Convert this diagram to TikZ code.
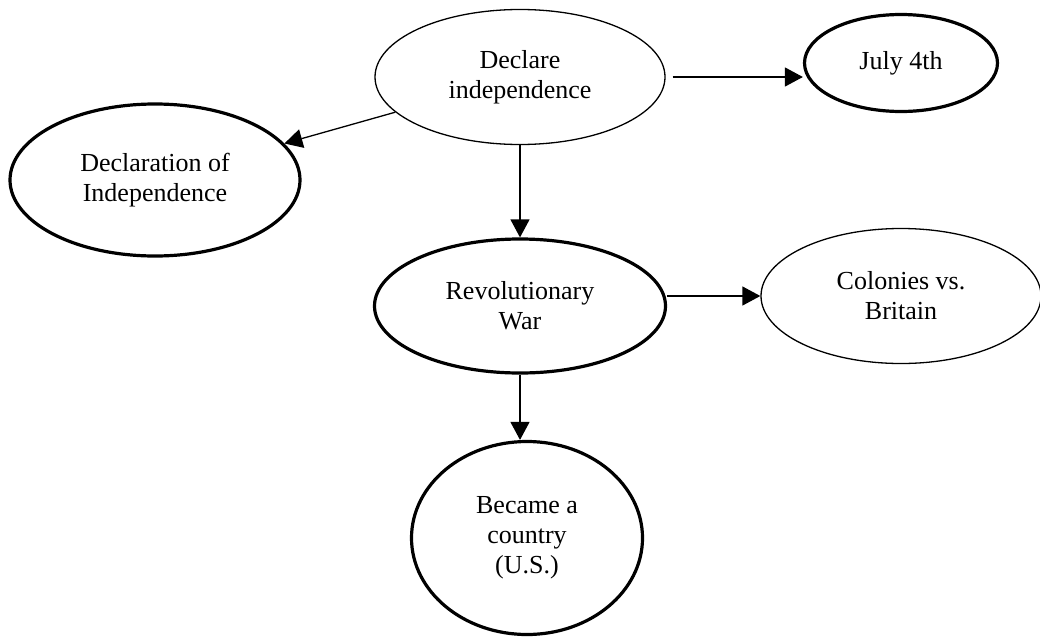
\documentclass[tikz,border=0pt]{standalone}
\usepackage{fontspec}
\setmainfont{Liberation Serif}
\usepackage{xcolor}
\usepackage{tikz}
\usetikzlibrary{arrows.meta,shapes.geometric}
\definecolor{inkblack}{RGB}{0,0,0}
\tikzset{
  arrow/.style={-{Triangle[length=18pt,width=19pt]}, line width=1.3pt, draw=inkblack},
  bubble/.style={
    ellipse,
    draw=inkblack,
    line width=1.3pt,
    inner sep=0pt,
    align=center,
    text=inkblack,
    font=\fontsize{26}{30}\selectfont
  },
  boldbubble/.style={bubble, line width=3.2pt}
}

\begin{document}
\begin{tikzpicture}[x=1pt, y=-1pt]
\useasboundingbox (0,0) rectangle (1040,637);

\node[bubble, minimum width=290pt, minimum height=135pt] (declare) at (520,77) {Declare\\independence};
\node[boldbubble, minimum width=193pt, minimum height=97pt] (july) at (901,63) {July 4th};
\node[boldbubble, minimum width=290pt, minimum height=152pt] (declaration) at (155,180) {Declaration of\\Independence};
\node[boldbubble, minimum width=291pt, minimum height=134pt] (rev) at (520,306) {Revolutionary\\War};
\node[bubble, minimum width=280pt, minimum height=135pt] (colonies) at (901,296) {Colonies vs.\\Britain};
\node[boldbubble, minimum width=231pt, minimum height=193pt] (became) at (527,538) {Became a\\country\\(U.S.)};

% Out of the top node
\draw[arrow] (declare) -- (declaration);
\draw[arrow, shorten <=7pt] (declare.east) -- (declare.east -| july.west);
\draw[arrow] (declare.south) -- (rev.north);

% Out of the war
\draw[arrow] (colonies.west -| rev.east) -- (colonies.west);
\draw[arrow] (rev.south) -- (rev.south |- became.north);

\end{tikzpicture}
\end{document}
